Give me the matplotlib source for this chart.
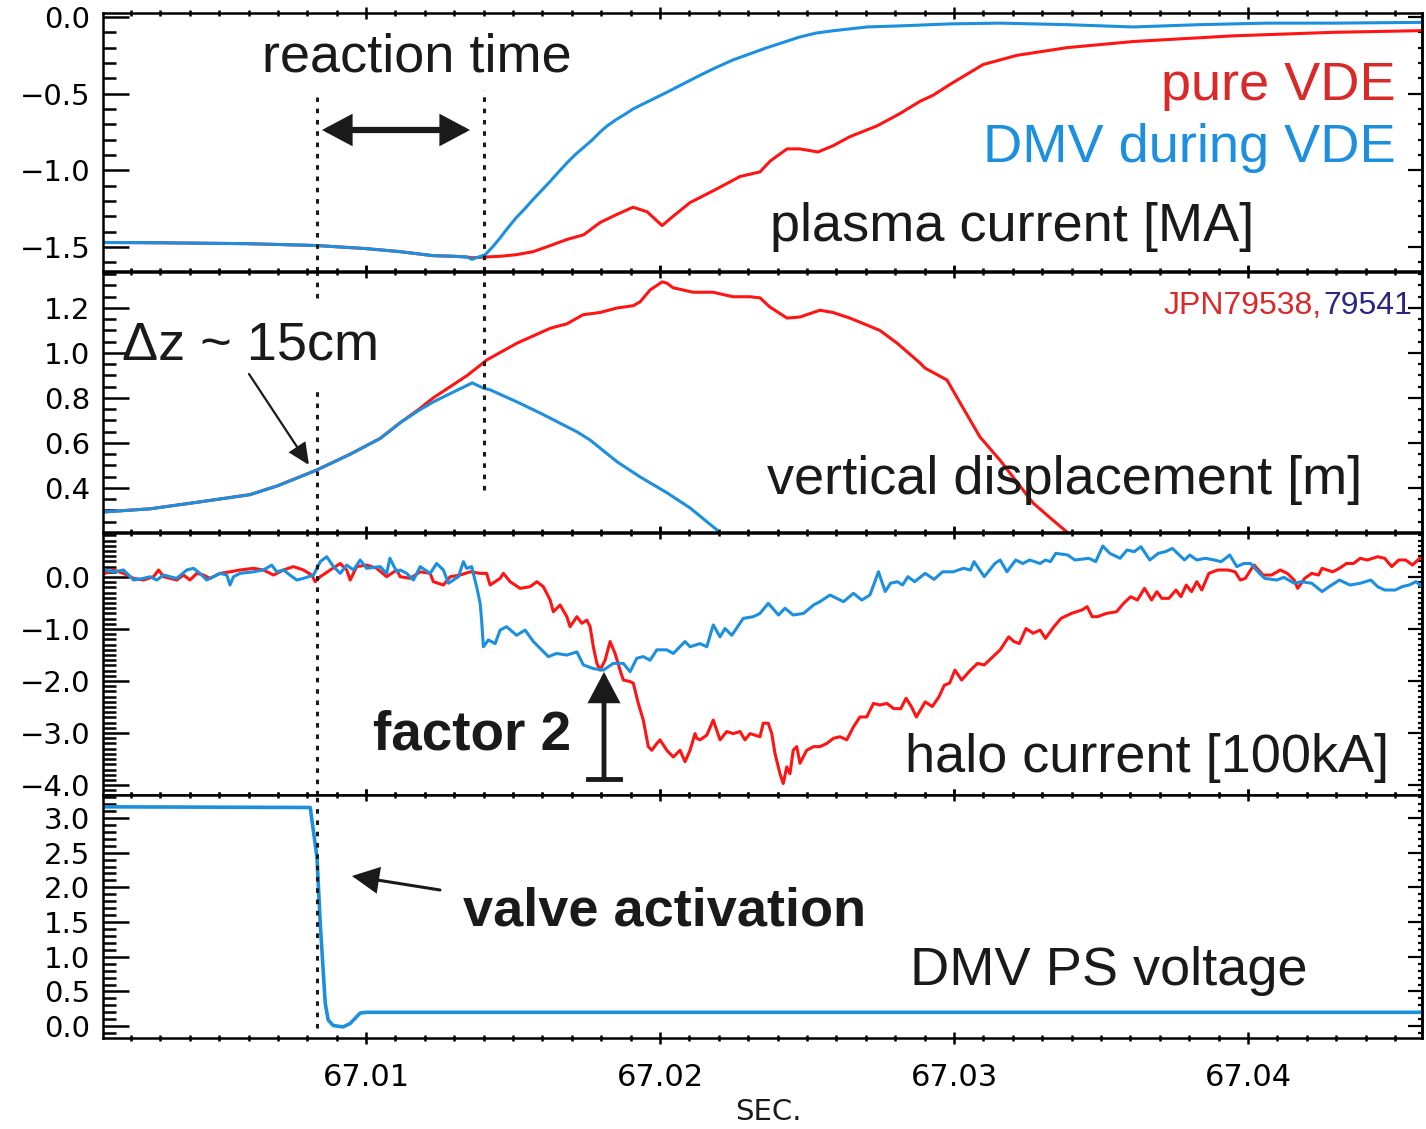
import numpy as np
import matplotlib.pyplot as plt
from matplotlib.patches import FancyArrowPatch
from matplotlib.lines import Line2D
from matplotlib.ticker import MultipleLocator, FuncFormatter

# time axis: ms after 67.000 s

# 1. plasma current, MA
ip_vde_t = [1.05, 3.0, 6.0, 8.33, 10.0, 11.16, 12.28, 13.0, 13.44, 13.6, 14.05, 14.56, 15.1, 15.68,
            16.27, 16.84, 17.4, 17.96, 18.5, 19.08, 19.56, 20.07, 20.44, 21.02, 21.94, 22.72, 23.4,
            23.74, 24.32, 24.76, 25.37, 25.88, 26.46, 27.38, 28.16, 28.84, 29.29, 29.86, 30.99,
            32.14, 33.84, 36.09, 39.49, 42.89, 45.92]
ip_vde = [-1.47, -1.472, -1.478, -1.49, -1.51, -1.53, -1.556, -1.56, -1.565, -1.57, -1.565, -1.56,
          -1.55, -1.53, -1.49, -1.45, -1.42, -1.34, -1.29, -1.24, -1.27, -1.36, -1.30, -1.21, -1.12,
          -1.04, -1.01, -0.94, -0.86, -0.86, -0.88, -0.84, -0.78, -0.71, -0.63, -0.55, -0.51, -0.44,
          -0.31, -0.25, -0.20, -0.16, -0.123, -0.10, -0.089]

ip_dmv_t = [1.05, 3.0, 6.0, 8.33, 10.0, 11.16, 12.28, 13.0, 13.44, 13.6, 14.05, 14.3, 14.56, 14.8,
            15.1, 15.4, 15.68, 16.0, 16.27, 16.55, 16.84, 17.1, 17.4, 17.7, 17.96, 18.2, 18.5, 18.8,
            19.08, 19.37, 19.66, 19.95, 20.24, 20.8, 21.36, 21.9, 22.48, 23.06, 23.64, 24.2, 24.76,
            25.3, 25.88, 27.04, 28.16, 29.86, 31.56, 33.84, 36.09, 38.37, 40.65, 43.0, 45.92]
ip_dmv = [-1.47, -1.472, -1.478, -1.49, -1.51, -1.53, -1.556, -1.56, -1.565, -1.58, -1.55, -1.50,
          -1.44, -1.38, -1.31, -1.25, -1.19, -1.125, -1.07, -1.01, -0.95, -0.90, -0.85, -0.80,
          -0.75, -0.71, -0.67, -0.635, -0.60, -0.572, -0.545, -0.517, -0.49, -0.435, -0.38, -0.33,
          -0.28, -0.24, -0.20, -0.165, -0.13, -0.105, -0.09, -0.065, -0.058, -0.045, -0.04, -0.05,
          -0.065, -0.05, -0.04, -0.04, -0.035]

# 2. vertical displacement, m
z_vde_t = [1.05, 2.65, 4.35, 6.05, 7.0, 8.33, 9.46, 10.48, 11.16, 11.8, 12.28, 13.44, 14.12, 15.14,
           16.27, 16.84, 17.38, 17.96, 18.54, 19.08, 19.32, 19.66, 20.07, 20.24, 20.44, 21.12, 21.8,
           22.48, 23.06, 23.4, 23.74, 24.32, 24.76, 25.44, 25.88, 26.46, 27.04, 27.48, 28.06, 28.84,
           29.01, 29.76, 30.2, 30.88, 31.56, 32.69, 33.27, 33.84, 34.1]
z_vde = [0.293, 0.307, 0.338, 0.37, 0.41, 0.48, 0.55, 0.62, 0.69, 0.75, 0.80, 0.90, 0.97, 1.044,
         1.11, 1.13, 1.17, 1.18, 1.20, 1.21, 1.227, 1.28, 1.316, 1.31, 1.29, 1.27, 1.27, 1.25, 1.25,
         1.245, 1.204, 1.155, 1.16, 1.19, 1.18, 1.155, 1.124, 1.10, 1.044, 0.956, 0.933, 0.88, 0.78,
         0.627, 0.524, 0.333, 0.267, 0.204, 0.17]

z_dmv_t = [1.05, 2.65, 4.35, 6.05, 7.0, 8.33, 9.46, 10.48, 11.16, 11.8, 12.28, 12.62, 13.61, 13.98,
           14.22, 15.14, 15.92, 17.18, 17.62, 18.54, 19.32, 20.24, 21.02, 21.6, 21.94, 22.2]
z_dmv = [0.293, 0.307, 0.338, 0.37, 0.41, 0.48, 0.55, 0.62, 0.69, 0.745, 0.782, 0.804, 0.867, 0.844,
         0.836, 0.782, 0.733, 0.649, 0.613, 0.516, 0.449, 0.378, 0.311, 0.249, 0.213, 0.17]

# 3. halo current, 100 kA
ih_vde_t = [1.12, 1.41, 1.75, 2.09, 2.43, 2.77, 2.94, 3.11, 3.33, 3.56, 3.79, 4.01, 4.24, 4.47, 4.69,
            5.03, 5.37, 5.71, 6.17, 6.51, 6.85, 7.19, 7.53, 7.87, 8.15, 8.27, 8.44, 8.78, 9.12, 9.34,
            9.46, 9.68, 10.02, 10.36, 10.7, 11.04,
            11.16, 11.5, 11.84, 12.18, 12.29, 12.63, 12.86, 13.2, 13.54, 13.88, 14.1, 14.22, 14.56,
            14.67, 14.9, 15.24, 15.58, 15.81, 16.03, 16.26, 16.37, 16.6, 16.83, 16.94, 17.17, 17.34,
            17.51, 17.62, 17.73, 17.85, 17.96, 18.13, 18.3, 18.47, 18.64, 18.75, 18.98, 19.09, 19.26,
            19.43, 19.6, 19.72, 19.89, 20.0, 20.23, 20.45, 20.68, 20.85, 21.02, 21.19, 21.25, 21.36,
            21.59, 21.81, 22.04, 22.27, 22.49, 22.72, 22.89, 23.06, 23.4, 23.51, 23.68, 23.8, 23.91,
            24.08, 24.19, 24.31, 24.42, 24.53, 24.65, 24.76, 24.99, 25.22, 25.44, 25.67, 25.9, 26.12,
            26.35, 26.58, 26.8, 27.03, 27.26,
            27.48, 27.72, 27.95, 28.19, 28.37, 28.55, 28.72, 29.02, 29.26, 29.49, 29.67, 29.85, 30.03,
            30.26, 30.56, 30.8, 31.03, 31.27, 31.57, 31.86, 32.04, 32.22, 32.45, 32.69, 32.93, 33.11,
            33.4, 33.64, 33.99, 34.35, 34.53, 34.7, 34.88, 35.18, 35.53, 35.77, 36.01, 36.24, 36.48,
            36.72, 36.9, 37.07, 37.31, 37.55, 37.72, 37.9, 38.08, 38.26, 38.43, 38.67, 38.97, 39.32,
            39.56, 39.74, 39.91, 40.09, 40.21, 40.51, 40.8, 41.1, 41.34, 41.57, 41.69, 41.93, 42.17,
            42.4, 42.52, 42.88, 43.11, 43.35, 43.59, 43.82, 44.06, 44.41, 44.65, 44.89, 45.13, 45.36,
            45.6, 45.84, 46.05]
ih_vde = [0.07, 0.135, 0.07, -0.026, -0.058, 0.006, 0.135, 0.006, -0.026, -0.058, 0.038, -0.058, 0.07,
          0.038, -0.026, 0.07, 0.10, 0.135, 0.167, 0.135, 0.038, 0.135, 0.2, 0.135, 0.038, -0.09,
          0.006, 0.135, 0.26, 0.135, -0.058, 0.2, 0.23, 0.167, 0.006, 0.135,
          0.006, -0.026, 0.10, 0.07, -0.09, -0.154, 0.006, 0.038, 0.10, 0.07, 0.07, -0.154, -0.026,
          0.07, -0.09, -0.218, -0.186, -0.09, -0.186, -0.44, -0.667, -0.538, -0.763, -0.955, -0.763,
          -0.89, -0.827, -0.955, -1.34, -1.66, -1.79, -1.60, -1.24, -1.47, -1.79, -1.98, -2.01, -2.04,
          -2.43, -2.75, -3.26, -3.33, -3.20, -3.13, -3.33, -3.46, -3.33, -3.55, -3.33, -3.01, -3.10,
          -3.13, -3.04, -2.75, -3.13, -2.97, -3.01, -2.97, -3.13, -3.01, -3.07, -2.81, -2.81, -3.01,
          -3.39, -3.78, -3.97, -3.65, -3.78, -3.33, -3.26, -3.58, -3.33, -3.26, -3.26, -3.20, -3.10,
          -3.07, -3.13, -2.88, -2.69, -2.69, -2.43,
          -2.46, -2.43, -2.53, -2.53, -2.33, -2.49, -2.69, -2.40, -2.49, -2.30, -2.08, -2.04, -1.79,
          -1.98, -1.79, -1.66, -1.69, -1.56, -1.40, -1.15, -1.24, -1.28, -0.99, -1.08, -1.02, -1.18,
          -0.955, -0.795, -0.70, -0.635, -0.57, -0.763, -0.763, -0.70, -0.667, -0.506, -0.378,
          -0.442, -0.218, -0.442, -0.282, -0.41, -0.41, -0.25, -0.378, -0.154, -0.282, -0.09, -0.25,
          0.07, 0.135, 0.135, 0.10, -0.058, -0.026, 0.135, 0.23, 0.038, 0.038, 0.135, 0.07, -0.058,
          -0.218, -0.026, 0.07, 0.038, 0.167, 0.10, 0.167, 0.26, 0.26, 0.36, 0.327, 0.39, 0.36, 0.2,
          0.327, 0.327, 0.23, 0.36, 0.39]

ih_dmv_t = [1.12, 1.41, 1.75, 2.09, 2.43, 2.65, 2.88, 3.11, 3.33, 3.56, 3.9, 4.13, 4.35, 4.58, 4.81,
            5.03, 5.26, 5.37, 5.49, 5.71, 6.17, 6.51, 6.79, 6.96, 7.19, 7.41, 7.64, 7.87, 8.21, 8.44,
            8.66, 8.89, 9.12, 9.34, 9.57, 9.8, 10.02, 10.48, 10.7, 10.81, 11.04,
            11.16, 11.38, 11.61, 11.84, 12.18, 12.4, 12.63, 12.8, 12.97, 13.14, 13.31, 13.42, 13.59,
            13.76, 13.88, 13.93, 13.99, 14.16, 14.39, 14.56, 14.78, 15.12, 15.41, 15.69, 15.92, 16.2,
            16.48, 16.83, 17.17, 17.39, 17.73, 18.07, 18.41, 18.75, 18.98, 19.21, 19.43, 19.66,
            19.89, 20.23, 20.45, 20.85, 21.02, 21.36, 21.59, 21.81, 22.04, 22.21, 22.44, 22.83,
            23.17, 23.4, 23.68, 24.03, 24.25, 24.53, 24.88, 25.22, 25.44, 25.78, 26.24, 26.58,
            26.86, 27.14, 27.43,
            27.66, 27.84, 28.07, 28.25, 28.43, 28.66, 29.02, 29.32, 29.61, 29.97, 30.32, 30.56,
            30.68, 31.03, 31.39, 31.57, 31.8, 32.1, 32.34, 32.57, 32.93, 33.11, 33.28, 33.46, 33.87,
            34.11, 34.59, 34.82, 35.06, 35.3, 35.65, 35.89, 36.13, 36.36, 36.66, 36.95, 37.19, 37.43,
            37.84, 38.02, 38.26, 38.55, 38.85, 39.09, 39.38, 39.62, 39.86, 40.09, 40.39, 40.57,
            40.98, 41.22, 41.57, 41.81, 42.17, 42.52, 42.76, 43.11, 43.47, 43.82, 44.18, 44.41,
            44.65, 45.01, 45.24, 45.48, 45.72, 46.05]
ih_dmv = [0.135, 0.10, 0.135, -0.058, -0.026, 0.006, -0.058, 0.038, 0.006, -0.026, 0.135, 0.167, 0.07,
          -0.058, 0.006, 0.07, 0.038, -0.154, 0.006, 0.07, 0.10, 0.135, 0.23, 0.10, 0.135, 0.038,
          -0.058, -0.026, 0.038, 0.295, 0.39, 0.2, 0.07, 0.23, 0.135, 0.327, 0.167, 0.2, 0.07, 0.36,
          0.10,
          0.135, 0.07, -0.058, 0.2, 0.07, 0.26, 0.135, -0.12, -0.058, 0.006, 0.295, 0.167, 0.2,
          -0.186, -0.506, -0.827, -1.34, -1.21, -1.28, -1.02, -0.955, -1.12, -1.02, -1.24, -1.37,
          -1.53, -1.47, -1.50, -1.44, -1.69, -1.76, -1.79, -1.66, -1.66, -1.82, -1.56, -1.53, -1.60,
          -1.40, -1.40, -1.47, -1.24, -1.34, -1.28, -1.34, -0.92, -1.15, -0.99, -1.12, -0.795,
          -0.763, -0.70, -0.506, -0.73, -0.60, -0.73, -0.70, -0.538, -0.474, -0.346, -0.474, -0.314,
          -0.442, -0.346, 0.10,
          -0.28, -0.12, -0.09, -0.154, 0.006, -0.09, 0.07, -0.045, 0.10, 0.10, 0.167, 0.135, 0.295,
          0.006, 0.26, 0.327, 0.10, 0.327, 0.26, 0.327, 0.26, 0.327, 0.295, 0.455, 0.423, 0.327,
          0.36, 0.295, 0.596, 0.455, 0.36, 0.52, 0.487, 0.583, 0.327, 0.455, 0.487, 0.55, 0.327,
          0.423, 0.327, 0.36, 0.327, 0.295, 0.423, 0.2, 0.26, 0.26, 0.07, -0.026, -0.058, -0.006,
          -0.12, -0.09, -0.12, -0.28, -0.186, -0.058, -0.154, -0.12, -0.058, -0.186, -0.25, -0.25,
          -0.186, -0.154, -0.09, -0.25]

# 4. DMV power supply voltage
v_t = [1.05, 8.1, 8.33, 8.44, 8.61, 8.71, 8.88, 9.22, 9.46, 9.8, 10.03, 45.92]
v_dmv = [3.16, 3.15, 2.43, 1.48, 0.33, 0.09, 0.01, -0.01, 0.04, 0.19, 0.2, 0.2]

# moments marked by dashed lines, ms
t_valve = 8.33
t_react = 14.01


def sec(ms):
    return 67.0 + np.array(ms) / 1000.0


RED = '#ff1414'
BLUE = '#1c8fdf'
INK = '#1a1a1a'

W, H = 1426, 1129


def fx(px):
    return px / W


def fy(py):
    return 1 - py / H


def fmt(v, pos):
    s = '%.1f' % v
    if s == '-0.0':
        s = '0.0'
    return s.replace('-', '\u2212')


fig = plt.figure(figsize=(14.26, 11.29), dpi=100)
plt.rcParams['font.family'] = 'DejaVu Sans'

# axes rectangles: [top px, bottom px]
rows = [(13, 271), (272, 532), (533, 795), (795, 1038)]
ylims = [(-1.656, 0.026), (0.204, 1.36), (-4.19, 0.846), (-0.17, 3.33)]
majors = [0.5, 0.2, 1.0, 0.5]
minors = [0.1, 0.05, 0.1, 0.1]

axes = []
for i, (top, bot) in enumerate(rows):
    ax = fig.add_axes([fx(103), fy(bot), fx(1422) - fx(103), (bot - top) / H])
    ax.set_xlim(sec(1.05), sec(45.92))
    ax.set_ylim(*ylims[i])
    ax.xaxis.set_major_locator(MultipleLocator(0.01))
    ax.xaxis.set_minor_locator(MultipleLocator(0.001))
    ax.yaxis.set_major_locator(MultipleLocator(majors[i]))
    ax.yaxis.set_minor_locator(MultipleLocator(minors[i]))
    ax.yaxis.set_major_formatter(FuncFormatter(fmt))
    ax.xaxis.set_major_formatter(FuncFormatter(lambda v, p: '%.2f' % v))
    ax.tick_params(axis='x', which='both', direction='inout', top=True, bottom=True,
                   width=1.8, labelbottom=(i == 3), labelsize=22, pad=14)
    ax.tick_params(axis='x', which='major', length=8)
    ax.tick_params(axis='x', which='minor', length=4)
    ax.tick_params(axis='y', which='both', direction='in', left=True, right=False,
                   width=1.8, labelsize=21, pad=9)
    ax.tick_params(axis='y', which='major', length=19)
    ax.tick_params(axis='y', which='minor', length=9.5)
    for sp in ax.spines.values():
        sp.set_linewidth(1.8)
    # shorter ticks on the right side
    sa = ax.secondary_yaxis('right', functions=(lambda y: y, lambda y: y))
    sa.yaxis.set_major_locator(MultipleLocator(majors[i]))
    sa.yaxis.set_minor_locator(MultipleLocator(minors[i]))
    sa.tick_params(axis='y', which='both', direction='in', width=1.6, labelright=False)
    sa.tick_params(axis='y', which='major', length=10)
    sa.tick_params(axis='y', which='minor', length=3)
    sa.spines['right'].set_linewidth(1.8)
    axes.append(ax)

ax1, ax2, ax3, ax4 = axes

# curves
ax1.plot(sec(ip_vde_t), ip_vde, color=RED, lw=2.2)
ax1.plot(sec(ip_dmv_t), ip_dmv, color=BLUE, lw=2.2)
ax2.plot(sec(z_vde_t), z_vde, color=RED, lw=2.2)
ax2.plot(sec(z_dmv_t), z_dmv, color=BLUE, lw=2.2)
ax3.plot(sec(ih_vde_t), ih_vde, color=RED, lw=2.2)
ax3.plot(sec(ih_dmv_t), ih_dmv, color=BLUE, lw=2.2)
ax4.plot(sec(v_t), v_dmv, color=BLUE, lw=2.6)

# dashed marker lines
dash = dict(color=INK, lw=2.2, ls=(0, (1.5, 2.2)))
ax1.axvline(sec(t_valve), 0, 0.674, **dash)
ax1.axvline(sec(t_react), 0, 0.70, **dash)
ax2.axvline(sec(t_valve), 0.9, 1, **dash)
ax2.axvline(sec(t_valve), 0, 0.554, **dash)
ax2.axvline(sec(t_react), 0.16, 1, **dash)
ax3.axvline(sec(t_valve), 0, 1, **dash)
ax4.axvline(sec(t_valve), 0.04, 1, **dash)

# labels
big = dict(family='Liberation Sans', fontsize=39)
fig.text(fx(262), fy(72), 'reaction time', color=INK, va='baseline', **big)
fig.text(fx(1396), fy(100), 'pure VDE', color='#d92a2a', ha='right', va='baseline', **big)
fig.text(fx(1396), fy(162), 'DMV during VDE', color='#1d8fdf', ha='right', va='baseline', **big)
fig.text(fx(770), fy(241), 'plasma current [MA]', color=INK, va='baseline', **big)
fig.text(fx(767), fy(494), 'vertical displacement [m]', color=INK, va='baseline', **big)
fig.text(fx(905), fy(772), 'halo current [100kA]', color=INK, va='baseline', **big)
fig.text(fx(910), fy(985), 'DMV PS voltage', color=INK, va='baseline', **big)
fig.text(fx(122), fy(360), '\u0394z ~ 15cm', color=INK, va='baseline', **big)
fig.text(fx(373), fy(750), 'factor 2', color=INK, va='baseline', fontweight='bold',
         family='Liberation Sans', fontsize=39.5)
fig.text(fx(463), fy(925), 'valve activation', color=INK, va='baseline', fontweight='bold',
         family='Liberation Sans', fontsize=39)
fig.text(fx(1322), fy(314), 'JPN79538,', color='#d92a2a', ha='right', va='baseline',
         family='Liberation Sans', fontsize=23)
fig.text(fx(1323), fy(314), '79541', color='#2b2685', ha='left', va='baseline',
         family='Liberation Sans', fontsize=23)
fig.text(fx(768), fy(1112), 'SEC.', ha='center', va='center', fontsize=21, color=INK)

# arrows
def arrow(p0, p1, style, lw):
    a = FancyArrowPatch((fx(p0[0]), fy(p0[1])), (fx(p1[0]), fy(p1[1])),
                        transform=fig.transFigure, arrowstyle=style, mutation_scale=1,
                        lw=lw, color=INK, shrinkA=0, shrinkB=0, joinstyle='miter')
    fig.add_artist(a)


arrow((322, 130), (470, 130), '<|-|>,head_length=15,head_width=8', 4.5)
arrow((249, 374), (309, 465), '-|>,head_length=13,head_width=6', 1.6)
arrow((604, 779), (604, 672), '-|>,head_length=17,head_width=9', 3.5)
arrow((440, 890), (352, 876), '-|>,head_length=16,head_width=8', 2.2)
fig.add_artist(Line2D([fx(588), fx(620)], [fy(779), fy(779)], transform=fig.transFigure,
                      color=INK, lw=3.5))

plt.savefig('out.png', dpi=100)
